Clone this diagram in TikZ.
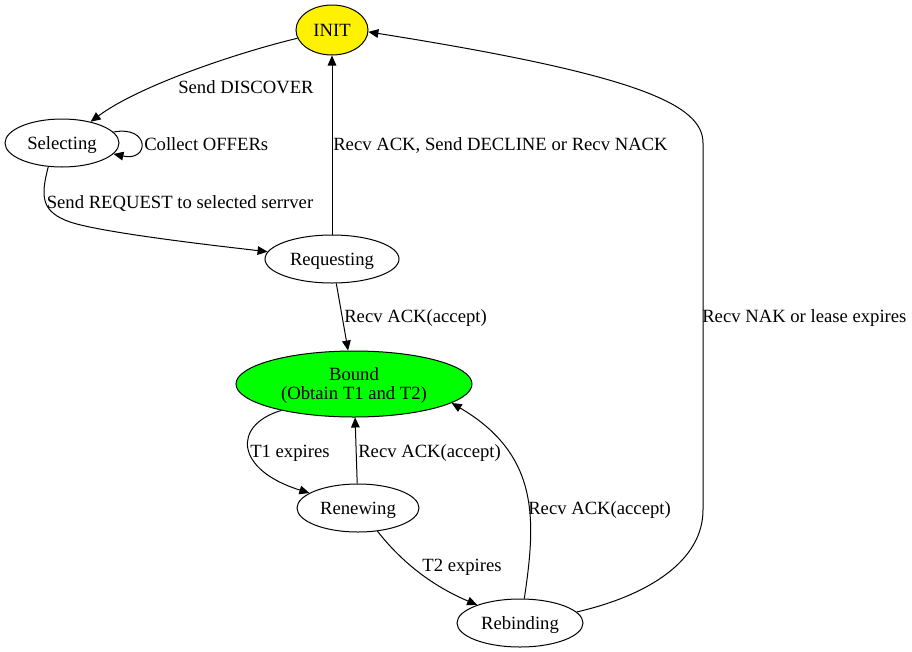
\documentclass[tikz,border=0pt]{standalone}
\usepackage{fontspec}
\setmainfont{Liberation Serif}
\usetikzlibrary{shapes.geometric,arrows.meta}
\tikzset{
  x=0.75bp, y=-0.75bp,
  state/.style={draw=black, line width=0.75bp, ellipse, inner sep=0pt, text depth=0pt, font=\fontsize{14bp}{14.25bp}\selectfont},
  lbl/.style={inner sep=0pt, text depth=0pt, font=\fontsize{14bp}{14.25bp}\selectfont},
  edge/.style={draw=black, line width=0.75bp, -{Triangle[length=7.5bp,width=6.5bp]}},
}
\begin{document}
\begin{tikzpicture}
\useasboundingbox (0,0) rectangle (912,652);
% nodes
\node[state, fill=yellow, minimum width=54bp, minimum height=37.5bp] (INIT) at (332,30) {INIT};
\node[state, minimum width=85.5bp, minimum height=36bp] (Sel) at (62,143) {Selecting};
\node[state, minimum width=100.5bp, minimum height=36bp] (Req) at (332,259) {Requesting};
\node[state, fill=green, minimum width=177bp, minimum height=49.5bp, align=center] (Bound) at (354,384) {Bound\\(Obtain T1 and T2)};
\node[state, minimum width=91.5bp, minimum height=36bp] (Ren) at (358,508) {Renewing};
\node[state, minimum width=94.5bp, minimum height=36bp] (Reb) at (520,623) {Rebinding};
% edges
\draw[edge] (INIT) .. controls (240,52) and (140,85) .. (Sel);
\node[lbl] (lDisc) at (246,87) {Send DISCOVER};
\draw[edge] (Sel.12) .. controls (150,125) and (150,162) .. (Sel.-12);
\node[lbl, anchor=west] (lColl) at (144,144) {Collect OFFERs};
\draw[edge] (Sel.240) .. controls (40,198) and (42,212) .. (70,222) .. controls (100,232) and (200,244) .. (Req);
\node[lbl] (lReq) at (180,202) {Send REQUEST to selected serrver};
\draw[edge] (Req) -- (INIT);
\node[lbl, anchor=west] (lDecl) at (333,144) {Recv ACK, Send DECLINE or Recv NACK};
\draw[edge] (Req) -- (Bound);
\node[lbl, anchor=west] (lAcc1) at (344,316) {Recv ACK(accept)};
\draw[edge] (Bound.200) .. controls (232,425) and (235,470) .. (Ren);
\node[lbl, anchor=west] (lT1) at (250,451) {T1 expires};
\draw[edge] (Ren) -- (Bound);
\node[lbl, anchor=west] (lAcc2) at (358,451) {Recv ACK(accept)};
\draw[edge] (Ren.-50) .. controls (400,560) and (430,585) .. (Reb);
\node[lbl] (lT2) at (462,565) {T2 expires};
\draw[edge] (Reb.80) .. controls (536,520) and (540,455) .. (Bound.-11);
\node[lbl, anchor=west] (lAcc3) at (528,508) {Recv ACK(accept)};
\draw[edge] (Reb.11) .. controls (650,595) and (703,560) .. (703,510) -- (703,143) .. controls (703,105) and (640,75) .. (INIT.-3);
\node[lbl, anchor=west] (lNak) at (702,316) {Recv NAK or lease expires};
\end{tikzpicture}
\end{document}
